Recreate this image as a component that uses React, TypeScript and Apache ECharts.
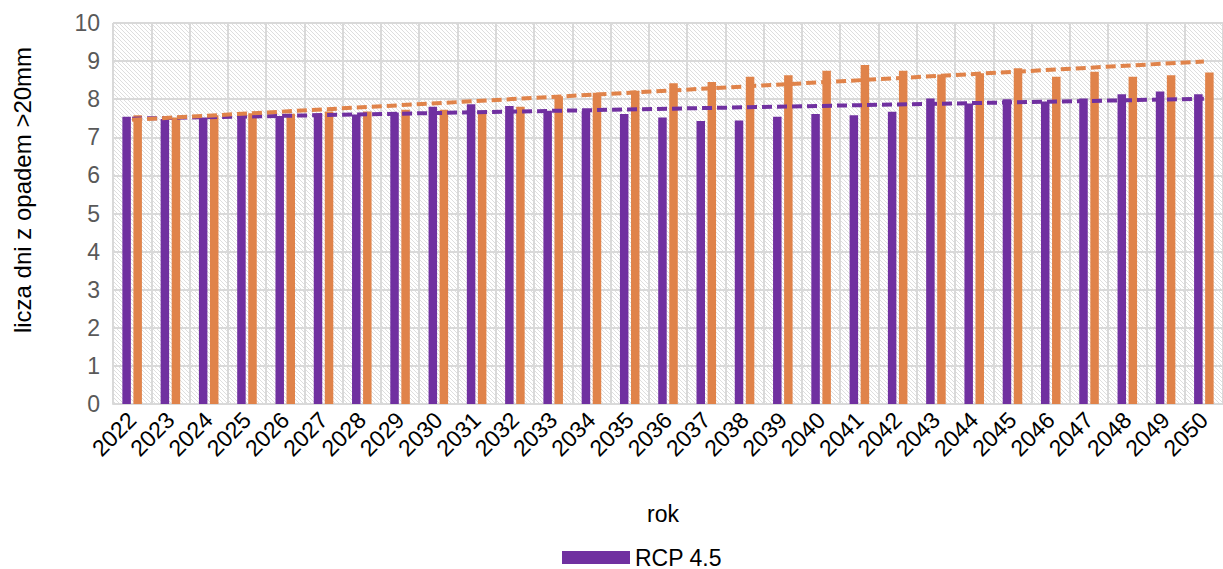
import React, { useEffect, useRef } from "react";
import * as echarts from "echarts";

const years = [
  "2022", "2023", "2024", "2025", "2026", "2027", "2028", "2029", "2030", "2031",
  "2032", "2033", "2034", "2035", "2036", "2037", "2038", "2039", "2040", "2041",
  "2042", "2043", "2044", "2045", "2046", "2047", "2048", "2049", "2050",
];

const rcp45 = [
  7.54, 7.48, 7.52, 7.62, 7.56, 7.62, 7.6, 7.65, 7.8, 7.87,
  7.82, 7.7, 7.7, 7.61, 7.52, 7.43, 7.44, 7.54, 7.61, 7.58,
  7.67, 8.02, 7.89, 8.0, 7.94, 8.02, 8.13, 8.2, 8.13,
];

const rcp85 = [
  7.58, 7.52, 7.58, 7.63, 7.62, 7.68, 7.68, 7.72, 7.72, 7.7,
  7.8, 8.08, 8.17, 8.22, 8.42, 8.45, 8.59, 8.63, 8.75, 8.9,
  8.75, 8.65, 8.68, 8.81, 8.59, 8.72, 8.59, 8.63, 8.7,
];

// linear trend lines: value at first and last year
const trend45 = [7.49, 8.01];
const trend85 = [7.46, 8.99];

const seriesNames = ["RCP 4.5", "RCP 8.5"];
const yAxisTitle = "licza dni z opadem >20mm";
const xAxisTitle = "rok";

const PURPLE = "#7030A0";
const ORANGE = "#E0834A";
const FONT = "'Liberation Sans', Arial, sans-serif";

function makeHatch(): string {
  const c = document.createElement("canvas");
  c.width = 8;
  c.height = 8;
  const ctx = c.getContext("2d")!;
  ctx.fillStyle = "#ffffff";
  ctx.fillRect(0, 0, 8, 8);
  ctx.fillStyle = "#dedede";
  for (let x = 0; x < 8; x++) {
    for (let y = 0; y < 8; y++) {
      if ((((x - y) % 4) + 4) % 4 === 0) ctx.fillRect(x, y, 1, 1);
    }
  }
  return c.toDataURL();
}

export default function App() {
  const ref = useRef<HTMLDivElement>(null);

  useEffect(() => {
    if (!ref.current) return;
    const chart = echarts.init(ref.current, null, { renderer: "svg" });
    const last = years.length - 1;
    const option: any = {
      animation: false,
      backgroundColor: "#ffffff",
      grid: {
        left: 113,
        top: 23,
        right: -14,
        bottom: 165,
        show: true,
        borderWidth: 0,
        backgroundColor: {
          image: makeHatch(),
          repeat: "repeat",
          imageWidth: 8,
          imageHeight: 8,
        },
      },
      legend: {
        data: [seriesNames[0]],
        orient: "vertical",
        left: 557,
        top: 541,
        itemWidth: 68,
        itemHeight: 13,
        itemGap: 10,
        icon: "rect",
        textStyle: { fontFamily: FONT, fontSize: 23, color: "#000000" },
      },
      xAxis: {
        type: "category",
        data: years,
        boundaryGap: true,
        axisLine: { show: true, lineStyle: { color: "#d9d9d9", width: 2 } },
        axisTick: { show: false },
        splitLine: { show: true, interval: 0, lineStyle: { color: "#d9d9d9", width: 2 } },
        axisLabel: {
          interval: 0,
          rotate: 45,
          margin: 12,
          fontFamily: FONT,
          fontSize: 23,
          color: "#000000",
        },
      },
      yAxis: {
        type: "value",
        min: 0,
        max: 10,
        interval: 1,
        axisLine: { show: false },
        axisTick: { show: false },
        splitLine: { show: true, lineStyle: { color: "#d9d9d9", width: 2 } },
        axisLabel: {
          margin: 13,
          fontFamily: FONT,
          fontSize: 23,
          color: "#595959",
        },
      },
      graphic: [
        {
          type: "text",
          x: 22,
          y: 190,
          rotation: Math.PI / 2,
          style: {
            text: yAxisTitle,
            fontFamily: FONT,
            fontSize: 24,
            fill: "#000000",
            textAlign: "center",
            textVerticalAlign: "middle",
          },
        },
        {
          type: "text",
          x: 663,
          y: 514,
          style: {
            text: xAxisTitle,
            fontFamily: FONT,
            fontSize: 23,
            fill: "#000000",
            textAlign: "center",
            textVerticalAlign: "middle",
          },
        },
      ],
      series: [
        {
          name: seriesNames[0],
          type: "bar",
          data: rcp45,
          barWidth: 8.5,
          barGap: "30%",
          itemStyle: { color: PURPLE },
          z: 2,
        },
        {
          name: seriesNames[1],
          type: "bar",
          data: rcp85,
          barWidth: 8.5,
          barGap: "30%",
          itemStyle: { color: ORANGE },
          z: 2,
        },
        {
          name: "trend45",
          type: "line",
          data: [[0, trend45[0]], [last, trend45[1]]],
          symbol: "none",
          lineStyle: { color: PURPLE, width: 4, type: [10, 5] },
          z: 5,
        },
        {
          name: "trend85",
          type: "line",
          data: [[0, trend85[0]], [last, trend85[1]]],
          symbol: "none",
          lineStyle: { color: ORANGE, width: 4, type: [10, 5] },
          z: 6,
        },
      ],
    };
    chart.setOption(option);
    return () => chart.dispose();
  }, []);

  return (
    <div
      ref={ref}
      style={{ position: "absolute", left: 0, top: 0, width: 1223, height: 569 }}
    />
  );
}
